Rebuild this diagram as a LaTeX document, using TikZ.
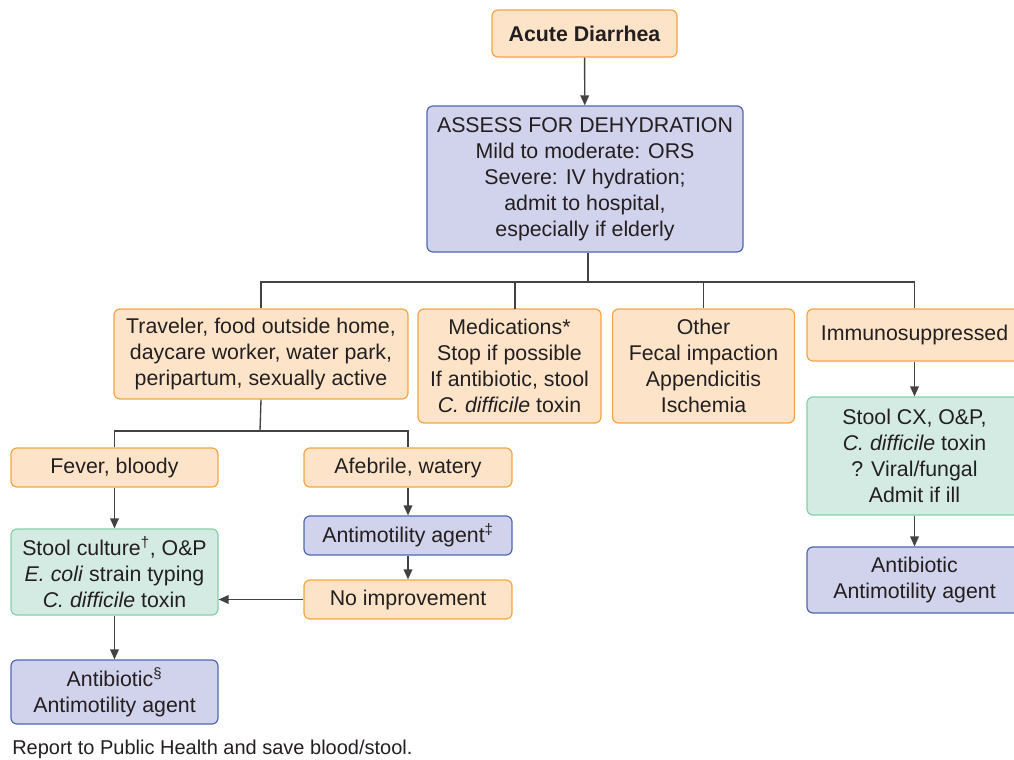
\documentclass[tikz,border=0pt]{standalone}
\usepackage{fontspec}
\setmainfont{Liberation Sans}
\usetikzlibrary{arrows.meta,positioning}

\definecolor{sandfill}{HTML}{FDE4C9}
\definecolor{sandline}{HTML}{F6A542}
\definecolor{lilacfill}{HTML}{D1D3EC}
\definecolor{lilacline}{HTML}{4F66B3}
\definecolor{mintfill}{HTML}{D4EBE3}
\definecolor{mintline}{HTML}{86CFA8}
\definecolor{ink}{HTML}{231F20}

\begin{document}
\begin{tikzpicture}[x=0.75pt,y=-0.75pt,
  box/.style={rounded corners=4.5pt,line width=0.9pt,align=center,inner sep=0pt,
    text=ink,font=\fontsize{16}{19.5}\selectfont},
  sandbox/.style={box,fill=sandfill,draw=sandline},
  lilacbox/.style={box,fill=lilacfill,draw=lilacline},
  mintbox/.style={box,fill=mintfill,draw=mintline},
  link/.style={line width=1pt,draw=ink!85},
  flow/.style={link,-{Triangle[length=7.5pt,width=6.5pt]}}]
\useasboundingbox (0,0) rectangle (1014,760);

% top of the chart
\node[sandbox,minimum width=138.75pt,minimum height=35.25pt,font=\fontsize{16}{19.5}\selectfont\bfseries] (acute) at (584.5,33.5) {Acute Diarrhea};
\node[lilacbox,minimum width=237pt,minimum height=109.5pt] (assess) at (585,179) {ASSESS FOR DEHYDRATION\\Mild to moderate: ORS\\Severe: IV hydration;\\admit to hospital,\\especially if elderly};

% second row
\node[sandbox,minimum width=220.5pt,minimum height=67.5pt] (trav) at (261,354) {Traveler, food outside home,\\daycare worker, water park,\\peripartum, sexually active};
\node[sandbox,minimum width=137.25pt,minimum height=85.5pt] (meds) at (509.5,366) {Medications*\\Stop if possible\\If antibiotic, stool\\\textit{C. difficile} toxin};
\node[sandbox,minimum width=136.5pt,minimum height=85.5pt] (other) at (703.5,366) {Other\\Fecal impaction\\Appendicitis\\Ischemia};
\node[sandbox,minimum width=161.25pt,minimum height=39pt] (immuno) at (914.5,335) {Immunosuppressed};

% immunosuppressed branch
\node[mintbox,minimum width=161.25pt,minimum height=88.5pt] (stoolcx) at (914.5,456) {Stool CX, O\&P,\\\textit{C. difficile} toxin\\? Viral/fungal\\Admit if ill};
\node[lilacbox,minimum width=161.25pt,minimum height=49.5pt] (abxright) at (914.5,580) {Antibiotic\\Antimotility agent};

% traveler branch
\node[sandbox,minimum width=155.25pt,minimum height=29.25pt] (fever) at (114.5,467.5) {Fever, bloody};
\node[sandbox,minimum width=156pt,minimum height=29.25pt] (afebrile) at (408,467.5) {Afebrile, watery};
\node[mintbox,minimum width=155.25pt,minimum height=64.5pt] (culture) at (114.5,572) {Stool culture\textsuperscript{†}, O\&P\\\textit{E. coli} strain typing\\\textit{C. difficile} toxin};
\node[lilacbox,minimum width=156pt,minimum height=29.25pt] (antimot) at (408,535.5) {Antimotility agent\textsuperscript{‡}};
\node[sandbox,minimum width=156pt,minimum height=29.25pt] (noimprove) at (408,599.5) {No improvement};
\node[lilacbox,minimum width=155.25pt,minimum height=48pt] (abxleft) at (114.5,692) {Antibiotic\textsuperscript{§}\\Antimotility agent};

\node[anchor=west,inner sep=0pt,text=ink,font=\fontsize{15}{18}\selectfont] (report) at (12,749) {Report to Public Health and save blood/stool.};

% connectors
\coordinate (bus) at (588,282);
\coordinate (medsin) at (515,309);
\coordinate (travbus) at (260,431);

\draw[flow] (acute) -- (assess);
\draw[link] (bus |- assess.south) -- (bus);
\draw[link] (trav.north) |- (bus) -| (immuno.north);
\draw[link] (medsin) -- (medsin |- bus);
\draw[link] (other.north) -- (other.north |- bus);

\draw[link] (trav.south) -- (travbus);
\draw[link] (fever.north) |- (travbus) -| (afebrile.north);
\draw[flow] (fever) -- (culture);
\draw[flow] (culture) -- (abxleft);
\draw[flow] (afebrile) -- (antimot);
\draw[flow] (antimot) -- (noimprove);
\draw[flow] (noimprove.west) -- (noimprove.west -| culture.east);

\draw[flow] (immuno) -- (stoolcx);
\draw[flow] (stoolcx) -- (abxright);
\end{tikzpicture}
\end{document}
